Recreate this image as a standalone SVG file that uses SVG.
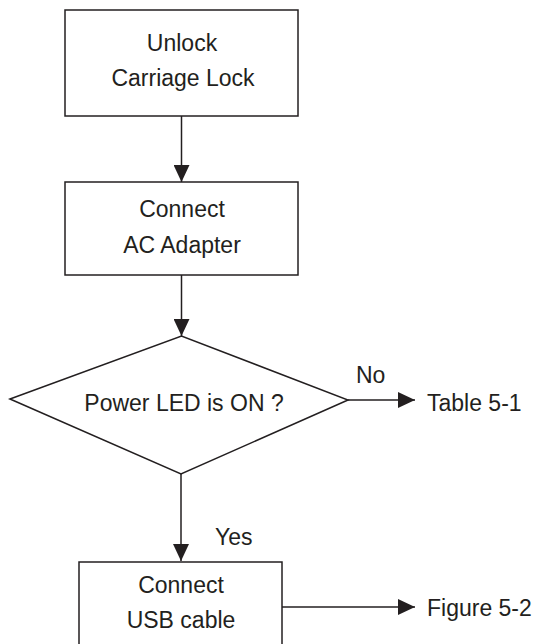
<svg xmlns="http://www.w3.org/2000/svg" width="538" height="644" viewBox="0 0 538 644">
<style>
.s{fill:#fff;stroke:#231f20;stroke-width:1.5}
.t{font-family:"Liberation Sans",Arial,sans-serif;font-size:23px;fill:#231f20}
.m{text-anchor:middle}
.c{stroke:#231f20;stroke-width:1.5;fill:none}
</style>
<defs>
<marker id="ah" markerWidth="17" markerHeight="16" refX="17" refY="8" orient="auto" markerUnits="userSpaceOnUse">
<path d="M0,0 L17,8 L0,16 Z" fill="#231f20"/>
</marker>
</defs>
<rect width="538" height="644" fill="#fff"/>
<g id="connectors">
<line class="c" x1="181.5" y1="116" x2="181.5" y2="182" marker-end="url(#ah)"/>
<line class="c" x1="181.5" y1="275" x2="181.5" y2="336" marker-end="url(#ah)"/>
<line class="c" x1="348" y1="400" x2="415" y2="400" marker-end="url(#ah)"/>
<line class="c" x1="181" y1="474" x2="181" y2="561" marker-end="url(#ah)"/>
<line class="c" x1="282" y1="607" x2="415" y2="607" marker-end="url(#ah)"/>
</g>
<g id="n1">
<rect class="s" x="65" y="10" width="233" height="106"/>
<text class="t m" x="182" y="51">Unlock</text>
<text class="t m" x="183" y="86">Carriage Lock</text>
</g>
<g id="n2">
<rect class="s" x="65" y="182" width="233" height="93"/>
<text class="t m" x="182" y="217">Connect</text>
<text class="t m" x="182" y="253">AC Adapter</text>
</g>
<g id="n3">
<polygon class="s" points="10,399 181.5,336 348,400 181,474"/>
<text class="t m" x="184" y="411">Power LED is ON ?</text>
</g>
<g id="n4">
<rect class="s" x="79" y="562" width="203" height="100"/>
<text class="t m" x="181" y="593">Connect</text>
<text class="t m" x="181" y="628">USB cable</text>
</g>
<g id="labels">
<text class="t" x="356" y="383">No</text>
<text class="t" x="427" y="411">Table 5-1</text>
<text class="t" x="215" y="545">Yes</text>
<text class="t" x="427" y="616">Figure 5-2</text>
</g>
</svg>
